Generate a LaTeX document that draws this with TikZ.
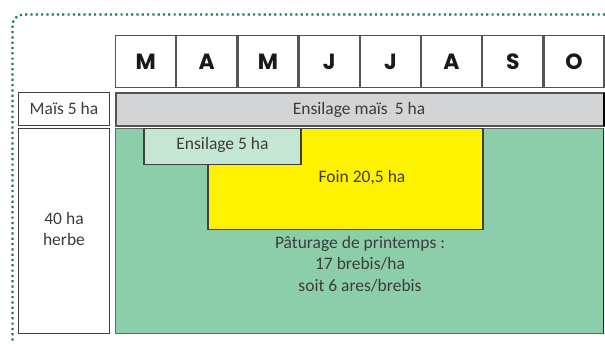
\documentclass[tikz,border=0pt]{standalone}
\usepackage{fontspec}
\setmainfont{Carlito}
\newfontfamily\monthfont{Poppins}
\definecolor{dotgreen}{HTML}{1B7D57}
\definecolor{boxline}{HTML}{555555}
\definecolor{barfill}{HTML}{D3D4D6}
\definecolor{pasture}{HTML}{8DCEAA}
\definecolor{silage}{HTML}{C6E6D4}
\definecolor{hay}{HTML}{FFF200}
\definecolor{txt}{HTML}{3C3C3C}
\begin{document}
\begin{tikzpicture}[x=1pt,y=-1pt,
  every node/.style={inner sep=0pt,outer sep=0pt},
  monthbox/.style={draw=boxline,line width=1.3pt,fill=white,minimum width=60pt,minimum height=52pt,anchor=north west,
     font=\monthfont\bfseries\fontsize{22}{22}\selectfont,text=black!90},
  labelbox/.style={draw=black!75,line width=1.2pt,fill=white,anchor=north west,minimum width=91pt,align=center,
     font=\fontsize{17.5}{21.5}\selectfont,text=txt},
  area/.style={anchor=north west,line width=1.2pt},
  lbl/.style={font=\fontsize{17.5}{21.5}\selectfont,text=txt,align=center}]
\useasboundingbox (0,0) rectangle (605,343);
% dotted frame
\coordinate (fa) at (605,14.5);
\coordinate (fb) at (12.5,342);
\draw[draw=dotgreen,line width=2.2pt,line cap=butt,dash pattern=on 2.2pt off 3.1pt,rounded corners=11pt]
  (fa) -- (12.5,14.5) -- (fb);
% months
\foreach \l [count=\i from 0] in {M,A,M,J,J,A,S,O}{
  \node[monthbox] (m\i) at ({115.6+\i*61.2},35.6) {\l};
}
% rows left labels
\node[labelbox,minimum height=33pt] (mais) at (18.6,92.6) {};
\node[lbl] (maist) at (64,108) {Maïs 5 ha};
\node[labelbox,minimum height=205pt] (herbe) at (18.6,128.6) {};
\node[lbl] (herbet) at (64,229) {40 ha\\herbe};
% silage maize bar
\node[area,draw=boxline,line width=1.6pt,fill=barfill,minimum width=488pt,minimum height=33pt] (bar) at (115.8,92.8) {};
\draw[black,line width=1.6pt] (bar.north east) -- (bar.south east);
\node[lbl] (bart) at (359,110) {Ensilage maïs\hspace{7pt}5 ha};
% pasture
\node[area,draw=black!60,fill=pasture,minimum width=488pt,minimum height=205pt] (past) at (115.6,128.6) {};
\draw[black!85,line width=1.4pt] (past.north east) -- (past.south east);
\node[area,draw=black!75,fill=hay,minimum width=275pt,minimum height=101pt] (hay) at (208,128.2) {};
\node[area,draw=black!75,fill=silage,minimum width=157pt,minimum height=36pt] (sil) at (144,128.2) {};
\node[lbl] (silt) at (222.5,145) {Ensilage 5 ha};
\node[lbl] (hayt) at (362,178) {Foin 20,5 ha};
\node[lbl] (pastt) at (360,264) {Pâturage de printemps :\\17 brebis/ha\\soit 6 ares/brebis};
\end{tikzpicture}
\end{document}
